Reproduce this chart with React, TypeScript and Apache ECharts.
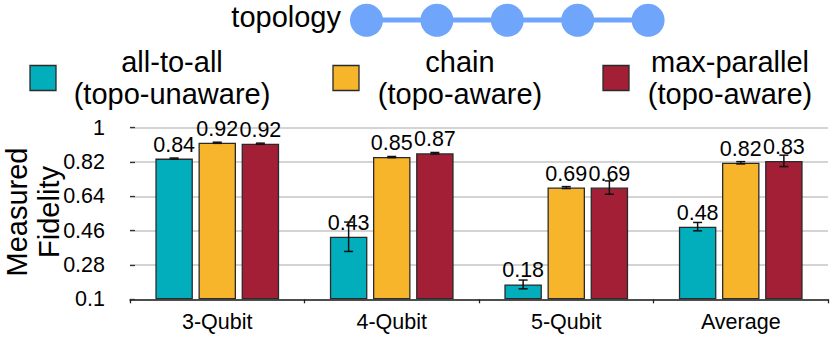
import React, { useEffect, useRef } from "react";
import * as echarts from "echarts";

// ---- data ----
const categories = ["3-Qubit", "4-Qubit", "5-Qubit", "Average"];
const allToAll = [0.838, 0.428, 0.178, 0.481];
const chain = [0.921, 0.846, 0.686, 0.816];
const maxParallel = [0.916, 0.866, 0.686, 0.826];
const allToAllErr = [0.003, 0.077, 0.023, 0.022];
const chainErr = [0.003, 0.003, 0.005, 0.006];
const maxParallelErr = [0.003, 0.004, 0.035, 0.03];
const seriesNames = ["all-to-all\n(topo-unaware)", "chain\n(topo-aware)", "max-parallel\n(topo-aware)"];
const colors = ["#02AEBC", "#F7B52C", "#A21F35"];
const Y_MIN = 0.1;
const Y_MAX = 1;
const Y_STEP = 0.18;
const topologyNodes = 5;

const FONT = "'Liberation Sans', Arial, sans-serif";
const BAR_W = 37.5;
const BAR_GAP = 0.15;

export default function App() {
  const ref = useRef<HTMLDivElement>(null);
  useEffect(() => {
    if (!ref.current) return;
    const chart = echarts.init(ref.current, null, { renderer: "svg" });
    const values = [allToAll, chain, maxParallel];
    const errs = [allToAllErr, chainErr, maxParallelErr];

    const barSeries = values.map((vals, i) => ({
      type: "bar",
      name: seriesNames[i],
      data: vals.map((v) => v - Y_MIN),
      barWidth: BAR_W,
      barGap: BAR_GAP * 100 + "%",
      itemStyle: { color: colors[i], borderColor: "#2a2a2a", borderWidth: 1.3 },
      label: {
        show: true,
        position: "top",
        distance: 3,
        fontFamily: FONT,
        fontSize: 21.5,
        color: "#000",
        formatter: (p: any) => vals[p.dataIndex].toFixed(2),
      },
      z: 2,
    }));

    const errSeries = values.map((vals, i) => ({
      type: "custom",
      coordinateSystem: "cartesian2d",
      data: vals.map((v, j) => [j, v - errs[i][j] - Y_MIN, v + errs[i][j] - Y_MIN]),
      encode: { x: 0, y: [1, 2] },
      z: 5,
      renderItem: (params: any, api: any) => {
        const off = (i - 1) * BAR_W * (1 + BAR_GAP);
        const c = api.value(0);
        const lo = api.coord([c, api.value(1)]);
        const hi = api.coord([c, api.value(2)]);
        const x = lo[0] + off;
        const hw = 4.5;
        const st = { stroke: "#111", lineWidth: 1.5 };
        return {
          type: "group",
          children: [
            { type: "line", shape: { x1: x, y1: lo[1], x2: x, y2: hi[1] }, style: st },
            { type: "line", shape: { x1: x - hw, y1: lo[1], x2: x + hw, y2: lo[1] }, style: st },
            { type: "line", shape: { x1: x - hw, y1: hi[1], x2: x + hw, y2: hi[1] }, style: st },
          ],
        };
      },
    }));

    const legendX = [30, 333, 603];
    const legendTextCenters = [172, 460, 730];
    const legendGraphics: any[] = [];
    seriesNames.forEach((n, i) => {
      legendGraphics.push({
        type: "rect",
        shape: { x: legendX[i], y: 65.5, width: 26, height: 25 },
        style: { fill: colors[i], stroke: "#2a2a2a", lineWidth: 1.3 },
      });
      legendGraphics.push({
        type: "text",
        x: legendTextCenters[i],
        y: 78,
        style: {
          text: n,
          fontFamily: FONT,
          fontSize: 29,
          lineHeight: 32,
          fill: "#000",
          align: "center",
          verticalAlign: "middle",
        },
      });
    });

    const nodeX0 = 366.5;
    const nodeStep = 70.4;
    const topo: any[] = [
      {
        type: "text",
        x: 341,
        y: 17,
        style: { text: "topology", fontFamily: FONT, fontSize: 29, fill: "#000", align: "right", verticalAlign: "middle" },
      },
      {
        type: "line",
        shape: { x1: nodeX0, y1: 20, x2: nodeX0 + nodeStep * (topologyNodes - 1), y2: 20 },
        style: { stroke: "#70A5FC", lineWidth: 5 },
      },
    ];
    for (let k = 0; k < topologyNodes; k++) {
      topo.push({
        type: "circle",
        shape: { cx: nodeX0 + nodeStep * k, cy: 20.3, r: 16.5 },
        style: { fill: "#70A5FC" },
      });
    }

    const yName = {
      type: "text",
      x: 32.5,
      y: 212,
      rotation: Math.PI / 2,
      style: {
        text: "Measured\nFidelity",
        fontFamily: FONT,
        fontSize: 29,
        lineHeight: 32,
        fill: "#000",
        align: "center",
        verticalAlign: "middle",
      },
    };

    chart.setOption({
      animation: false,
      grid: { left: 130, right: 3, top: 127.7, bottom: 38.7, containLabel: false },
      xAxis: {
        type: "category",
        data: categories,
        axisLine: { lineStyle: { color: "#222", width: 1.5 } },
        axisTick: { show: true, length: 4, lineStyle: { color: "#222", width: 1.3 } },
        axisLabel: { fontFamily: FONT, fontSize: 21.5, color: "#000", margin: 12 },
      },
      yAxis: {
        type: "value",
        min: 0,
        max: Y_MAX - Y_MIN,
        interval: Y_STEP,
        axisLine: { show: false },
        axisTick: { show: true, inside: true, length: 5, lineStyle: { color: "#333", width: 1.3 } },
        splitLine: { lineStyle: { color: "#c6c6c6", width: 1.5 } },
        axisLabel: {
          fontFamily: FONT,
          fontSize: 21.5,
          color: "#000",
          margin: 25,
          formatter: (v: number) => String(Number((v + Y_MIN).toFixed(2))),
        },
      },
      series: [...barSeries, ...errSeries],
      graphic: [...legendGraphics, ...topo, yName],
    });
    return () => chart.dispose();
  }, []);
  return <div ref={ref} style={{ position: "absolute", left: 0, top: 0, width: 831, height: 338 }} />;
}
